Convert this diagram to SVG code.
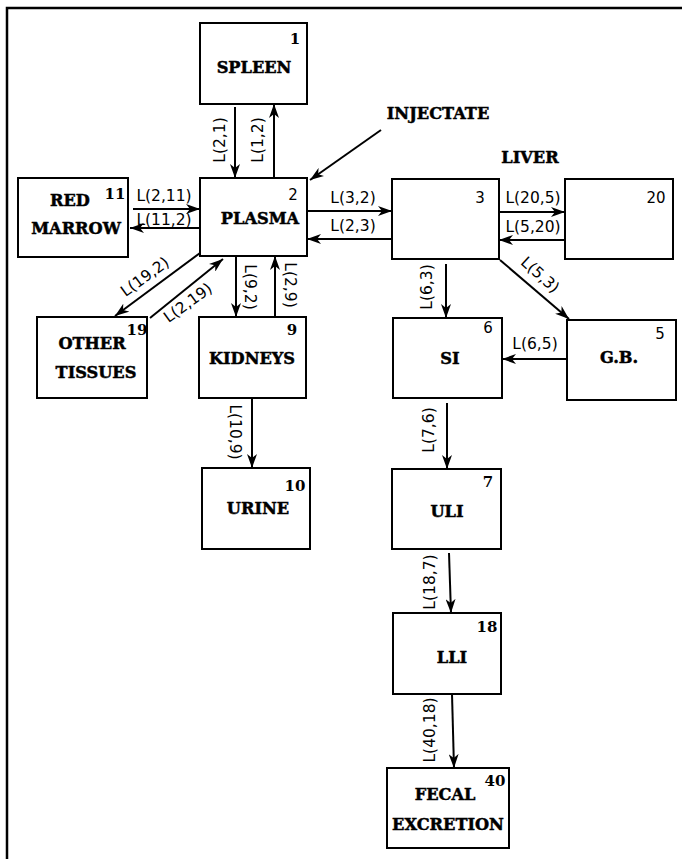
<svg xmlns="http://www.w3.org/2000/svg" width="682" height="859" viewBox="0 0 682 859">
<defs>
<style>
.box{fill:#fff;stroke:#000;stroke-width:2}
.nm{font-family:"DejaVu Serif","Liberation Serif",serif;font-weight:bold;font-size:16.2px;text-anchor:middle;fill:#000;stroke:#000;stroke-width:0.5}
.num{font-family:"DejaVu Sans","Liberation Sans",sans-serif;font-size:15px;text-anchor:middle;fill:#000}
.numb{font-family:"DejaVu Serif","Liberation Serif",serif;font-weight:bold;font-size:15px;text-anchor:middle;fill:#000}
.lb{font-family:"DejaVu Sans","Liberation Sans",sans-serif;font-size:15.5px;text-anchor:middle;fill:#000}
.ar{stroke:#000;stroke-width:2;fill:none;marker-end:url(#ah)}
.frame{stroke:#000;stroke-width:2.5;fill:none}
</style>
<marker id="ah" markerUnits="userSpaceOnUse" markerWidth="15" markerHeight="10" refX="14" refY="5" orient="auto">
<path d="M0,0 L14,5 L0,10 L4,5 Z" fill="#000"/>
</marker>
</defs>
<rect width="682" height="859" fill="#fff"/>
<path class="frame" d="M7,859 L7,8 L682,8"/>

<g id="spleen"><rect class="box" x="200" y="23" width="107" height="81"/><text class="numb" x="295" y="44">1</text><text class="nm" x="254" y="73">SPLEEN</text></g>
<g id="plasma"><rect class="box" x="200" y="178" width="107" height="78"/><text class="num" x="293" y="200">2</text><text class="nm" x="260" y="224">PLASMA</text></g>
<g id="marrow"><rect class="box" x="18" y="178" width="110" height="79"/><text class="numb" x="115" y="199">11</text><text class="nm" x="70" y="206">RED</text><text class="nm" x="76" y="234">MARROW</text></g>
<g id="tissues"><rect class="box" x="37" y="317" width="110" height="81"/><text class="numb" x="137" y="335">19</text><text class="nm" x="92" y="349">OTHER</text><text class="nm" x="96" y="378">TISSUES</text></g>
<g id="kidneys"><rect class="box" x="199" y="317" width="107" height="81"/><text class="numb" x="292" y="335">9</text><text class="nm" x="252" y="364">KIDNEYS</text></g>
<g id="urine"><rect class="box" x="202" y="468" width="108" height="81"/><text class="numb" x="295" y="491">10</text><text class="nm" x="258" y="514">URINE</text></g>
<g id="injectate"><text class="nm" x="438" y="119">INJECTATE</text></g>
<g id="liver"><text class="nm" x="530" y="163">LIVER</text><rect class="box" x="392" y="179" width="107" height="80"/><text class="num" x="480" y="203">3</text></g>
<g id="n20"><rect class="box" x="565" y="179" width="108" height="80"/><text class="num" x="656" y="203">20</text></g>
<g id="si"><rect class="box" x="393" y="318" width="109" height="80"/><text class="num" x="488" y="333">6</text><text class="nm" x="450" y="364">SI</text></g>
<g id="gb"><rect class="box" x="567" y="320" width="109" height="80"/><text class="num" x="660" y="339">5</text><text class="nm" x="619" y="363">G.B.</text></g>
<g id="uli"><rect class="box" x="392" y="469" width="109" height="80"/><text class="numb" x="488" y="487">7</text><text class="nm" x="447" y="517">ULI</text></g>
<g id="lli"><rect class="box" x="393" y="613" width="108" height="81"/><text class="numb" x="487" y="632">18</text><text class="nm" x="452" y="663">LLI</text></g>
<g id="fecal"><rect class="box" x="387" y="768" width="122" height="80"/><text class="numb" x="495" y="786">40</text><text class="nm" x="445" y="800">FECAL</text><text class="nm" x="448" y="830">EXCRETION</text></g>

<g id="connectors">
<line class="ar" x1="235" y1="107" x2="235" y2="178"/>
<line class="ar" x1="274" y1="178" x2="274" y2="104"/>
<line class="ar" x1="133" y1="209" x2="200" y2="209"/>
<line class="ar" x1="200" y1="228" x2="130" y2="228"/>
<line class="ar" x1="307" y1="211" x2="392" y2="211"/>
<line class="ar" x1="392" y1="239" x2="307" y2="239"/>
<line class="ar" x1="499" y1="212" x2="565" y2="212"/>
<line class="ar" x1="565" y1="240" x2="499" y2="240"/>
<line class="ar" x1="381" y1="130" x2="310" y2="180"/>
<line class="ar" x1="200" y1="253" x2="115" y2="316"/>
<line class="ar" x1="150" y1="318" x2="223" y2="259"/>
<line class="ar" x1="236" y1="256" x2="236" y2="317"/>
<line class="ar" x1="275" y1="317" x2="275" y2="256"/>
<line class="ar" x1="252" y1="398" x2="252" y2="468"/>
<line class="ar" x1="446" y1="264" x2="446" y2="318"/>
<line class="ar" x1="500" y1="260" x2="569" y2="319"/>
<line class="ar" x1="567" y1="359" x2="502" y2="359"/>
<line class="ar" x1="447" y1="403" x2="447" y2="469"/>
<line class="ar" x1="449" y1="553" x2="451" y2="613"/>
<line class="ar" x1="452" y1="694" x2="454" y2="768"/>

<text class="lb" x="164" y="201">L(2,11)</text>
<text class="lb" x="164" y="225">L(11,2)</text>
<text class="lb" x="353" y="203">L(3,2)</text>
<text class="lb" x="353" y="231">L(2,3)</text>
<text class="lb" x="533" y="203">L(20,5)</text>
<text class="lb" x="533" y="232">L(5,20)</text>
<text class="lb" x="535" y="349">L(6,5)</text>
<text class="lb" transform="translate(220,140) rotate(-90)" x="0" y="5">L(2,1)</text>
<text class="lb" transform="translate(258,140) rotate(-90)" x="0" y="5">L(1,2)</text>
<text class="lb" transform="translate(250,287) rotate(90)" x="0" y="5">L(9,2)</text>
<text class="lb" transform="translate(290,285) rotate(90)" x="0" y="5">L(2,9)</text>
<text class="lb" transform="translate(235,432) rotate(90)" x="0" y="5">L(10,9)</text>
<text class="lb" transform="translate(145,277) rotate(-36)" x="0" y="5">L(19,2)</text>
<text class="lb" transform="translate(188,303) rotate(-36)" x="0" y="5">L(2,19)</text>
<text class="lb" transform="translate(540,275) rotate(42)" x="0" y="5">L(5,3)</text>
<text class="lb" transform="translate(427,287) rotate(-90)" x="0" y="5">L(6,3)</text>
<text class="lb" transform="translate(429,430) rotate(-90)" x="0" y="5">L(7,6)</text>
<text class="lb" transform="translate(430,582) rotate(-90)" x="0" y="5">L(18,7)</text>
<text class="lb" transform="translate(430,730) rotate(-90)" x="0" y="5">L(40,18)</text>
</g>
</svg>
